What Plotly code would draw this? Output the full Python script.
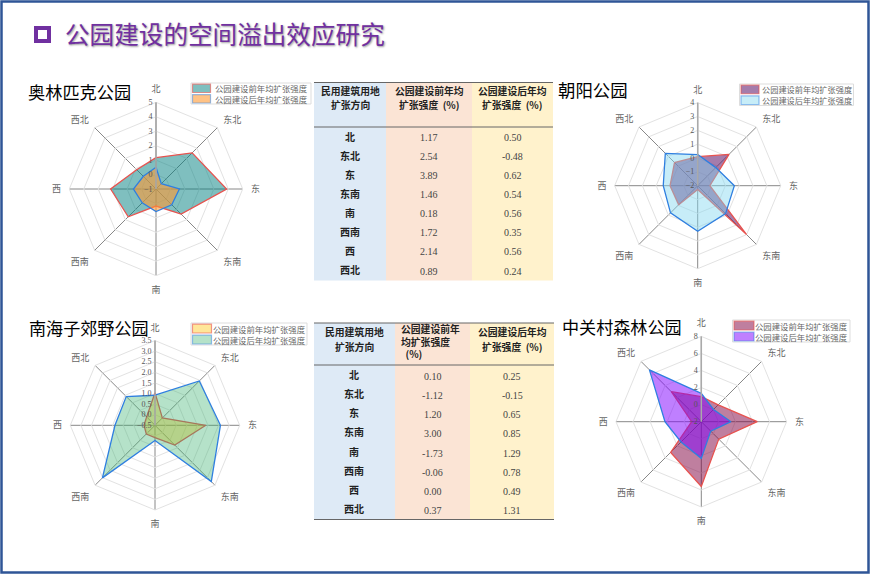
import plotly.graph_objects as go

W = 871
H = 575

directions = ['北', '东北', '东', '东南', '南', '西南', '西', '西北']
before_name = '公园建设前年均扩张强度'
after_name = '公园建设后年均扩张强度'

# 雷达图数据
aolin_before = [1.17, 2.54, 3.89, 1.46, 0.18, 1.72, 2.14, 0.89]
aolin_after = [0.50, -0.48, 0.62, 0.54, 0.56, 0.35, 0.56, 0.24]
chaoyang_before = [0.10, 1.20, -1.12, 3.00, -1.73, -0.06, 0.00, 0.37]
chaoyang_after = [0.25, -0.15, 0.65, 0.85, 1.29, 0.78, 0.49, 1.31]
nanhai_before = [1.04, -0.01, 1.90, 0.82, 0.08, 0.08, 0.02, 0.06]
nanhai_after = [0.92, 2.46, 2.59, 3.26, 0.22, 3.01, 1.39, 1.42]
zhongguan_before = [0.93, 0.80, 4.56, 0.89, 5.60, 3.08, -0.87, 2.97]
zhongguan_after = [1.32, 0.03, 1.48, -0.44, 2.30, 1.36, 2.26, 6.60]

# 表格数据
nbsp = '\u00a0'
table1_header = [['民用建筑用地', '扩张方向'],
                 ['公园建设前年均', '扩张强度' + nbsp * 2 + '(%)'],
                 ['公园建设后年均', '扩张强度' + nbsp * 2 + '(%)']]
table1_before = ['1.17', '2.54', '3.89', '1.46', '0.18', '1.72', '2.14', '0.89']
table1_after = ['0.50', '-0.48', '0.62', '0.54', '0.56', '0.35', '0.56', '0.24']
table2_header = [['民用建筑用地', '扩张方向'],
                 ['公园建设前年<br>均扩张强度<br>' + nbsp * 2 + '(%)'],
                 ['公园建设后年均', '扩张强度' + nbsp * 2 + '(%)']]
table2_before = ['0.10', '-1.12', '1.20', '3.00', '-1.73', '-0.06', '0.00', '0.37']
table2_after = ['0.25', '-0.15', '0.65', '0.85', '1.29', '0.78', '0.49', '1.31']

LABEL_FONT = 'Liberation Serif, Noto Sans CJK SC'
CJK_FONT = 'Noto Sans CJK SC'
RED = '#e8534f'
BLUE = '#2f7fe0'

# 子图名, 前, 后, 圆心x, 圆心y, 半径, 径向范围, 刻度, 刻度格式, 前填充, 后填充, 图例框(x0,y0,x1,y1), 色块宽度, 文字x, 文字大小
charts = [
    ('polar', aolin_before, aolin_after, 156, 189, 86.7, [-1, 5], [-1, 0, 1, 2, 3, 4, 5], 'd',
     'rgba(0,128,128,0.5)', 'rgba(255,153,51,0.6)', (191, 83, 311, 104), 18, 213, 8.4),
    ('polar2', chaoyang_before, chaoyang_after, 697.7, 185.7, 83, [-2, 4], [-2, -1, 0, 1, 2, 3, 4], 'd',
     'rgba(100,30,110,0.58)', 'rgba(130,215,240,0.45)', (739.5, 84, 853.5, 105.5), 18, 759.5, 8.2),
    ('polar3', nanhai_before, nanhai_after, 155, 425.3, 84.7, [-0.5, 3.5],
     [-0.5, 0, 0.5, 1, 1.5, 2, 2.5, 3, 3.5], '.1f',
     'rgba(255,192,0,0.4)', 'rgba(60,179,113,0.38)', (191, 323, 307, 345), 19, 211, 8.4),
    ('polar4', zhongguan_before, zhongguan_after, 701.3, 421.7, 85.3, [-2, 8], [-2, 0, 2, 4, 6, 8], 'd',
     'rgba(128,0,64,0.5)', 'rgba(128,0,255,0.5)', (732.5, 320, 850, 342), 20, 753, 8.4),
]


def rect(x0, y0, x1, y1, **kw):
    return dict(type='rect', xref='paper', yref='paper', x0=x0 / W, x1=x1 / W, y0=1 - y0 / H, y1=1 - y1 / H, **kw)


def rule(x0, x1, y, color='#666666', width=1):
    return dict(type='line', xref='paper', yref='paper', x0=x0 / W, x1=x1 / W, y0=1 - y / H, y1=1 - y / H,
                line=dict(color=color, width=width))


def text(x, y, s, size, color='#000000', anchor='left', family=CJK_FONT, shadow=None, align='center'):
    return dict(text=s, xref='paper', yref='paper', x=x / W, y=1 - y / H, xanchor=anchor, yanchor='middle',
                align=align, showarrow=False, font=dict(family=family, size=size, color=color, shadow=shadow))


fig = go.Figure()
layout_extra = {}
shapes = [
    rect(1.5, 1.5, 868.5, 572.5, line=dict(color='#2f5597', width=2.5)),
    rect(36, 28, 49, 41, line=dict(color='#7030a0', width=4)),
]
annotations = [
    text(62.5, 33, '公园建设的空间溢出效应研究', 24.6, '#7030a0', shadow='1px 1px 2px #999999'),
    text(25.5, 91, '奥林匹克公园', 17.2),
    text(555.5, 90, '朝阳公园', 17.4),
    text(26.5, 327, '南海子郊野公园', 17.1),
    text(559.5, 326, '中关村森林公园', 17.1),
]

for polar_id, before, after, cx, cy, radius, r_range, r_ticks, r_fmt, c1, c2, box, sw, tx, leg_size in charts:
    # 首尾相接让折线闭合
    fig.add_trace(go.Scatterpolar(r=before + before[:1], theta=directions + directions[:1], name=before_name,
                                  subplot=polar_id, mode='lines', fill='toself', showlegend=False,
                                  fillcolor=c1, line=dict(color=RED, width=1.3)))
    fig.add_trace(go.Scatterpolar(r=after + after[:1], theta=directions + directions[:1], name=after_name,
                                  subplot=polar_id, mode='lines', fill='toself', showlegend=False,
                                  fillcolor=c2, line=dict(color=BLUE, width=1.3)))
    layout_extra[polar_id] = dict(
        domain=dict(x=[(cx - radius) / W, (cx + radius) / W], y=[1 - (cy + radius) / H, 1 - (cy - radius) / H]),
        gridshape='linear',
        bgcolor='rgba(0,0,0,0)',
        radialaxis=dict(range=r_range, tickvals=r_ticks, tickformat=r_fmt, angle=90, tickangle=90,
                        side='counterclockwise',
                        gridcolor='#e2e2e2', gridwidth=1, linecolor='#aaaaaa', linewidth=1.5, ticks='',
                        tickfont=dict(family=LABEL_FONT, size=8, color='#555555')),
        angularaxis=dict(direction='clockwise', rotation=90, gridcolor='#888888', gridwidth=1,
                         linecolor='#e2e2e2', linewidth=1, ticks='outside', ticklen=6,
                         tickcolor='rgba(0,0,0,0)',
                         tickfont=dict(family=LABEL_FONT, size=9, color='#666666')),
    )
    # 自带图例行高压不下来，这里手画
    x0, y0, x1, y1 = box
    row_h = (y1 - y0) / 2
    shapes.append(rect(x0, y0, x1, y1, fillcolor='#ffffff', line=dict(color='#dddddd', width=1)))
    for i, (name, fill_c, line_c) in enumerate([(before_name, c1, 'rgba(232,83,79,0.6)'),
                                                (after_name, c2, 'rgba(47,127,224,0.5)')]):
        shapes.append(rect(x0 + 1.5, y0 + i * row_h + 1.2, x0 + 1.5 + sw, y0 + (i + 1) * row_h - 1,
                           fillcolor=fill_c, line=dict(color=line_c, width=1.2)))
        annotations.append(text(tx, y0 + (i + 0.5) * row_h, name, leg_size, '#666666'))

# 两张表
col_fill = ['#deeaf6', '#fbe4d5', '#fff2cc']
tables = [
    dict(edges=[314, 386, 472, 553], top=82.5, rule_y=127, bottom=280.5, header=table1_header,
         header_x=[[350, 350], [429, 429], [512, 512]], header_y=[[90.7, 105.3], [90.7, 105.3], [90.7, 105.3]],
         before=table1_before, after=table1_after, label_y=136, num_y=137.3, step=19.1, last_rule=False),
    dict(edges=[314, 395, 470, 554], top=323, rule_y=365, bottom=519.5, header=table2_header,
         header_x=[[354, 354], [430], [512, 512]],
         header_y=[[331.7, 346.7], [341.3], [331.7, 346.7]],
         before=table2_before, after=table2_after, label_y=374.3, num_y=376.3, step=19.2, last_rule=True),
]

for t in tables:
    e = t['edges']
    for i in range(3):
        shapes.append(rect(e[i], t['top'], e[i + 1], t['bottom'], fillcolor=col_fill[i], line=dict(width=0), layer='below'))
    shapes.append(rule(e[0], e[3], t['top']))
    shapes.append(rule(e[0], e[3], t['rule_y']))
    if t['last_rule']:
        shapes.append(rule(e[0], e[3], t['bottom']))
    for c in range(3):
        for line_text, hx, hy in zip(t['header'][c], t['header_x'][c], t['header_y'][c]):
            annotations.append(text(hx, hy, '<b>%s</b>' % line_text, 9.8, '#222222', anchor='center', align='left'))
    num_x = [(e[1] + e[2]) / 2, (e[2] + e[3]) / 2]
    for row, d in enumerate(directions):
        annotations.append(text(t['header_x'][0][0], t['label_y'] + row * t['step'], '<b>%s</b>' % d, 10, '#222222',
                                anchor='center'))
        annotations.append(text(num_x[0], t['num_y'] + row * t['step'], t['before'][row], 10, '#444444',
                                anchor='center', family=LABEL_FONT))
        annotations.append(text(num_x[1], t['num_y'] + row * t['step'], t['after'][row], 10, '#444444',
                                anchor='center', family=LABEL_FONT))

fig.update_layout(width=W, height=H, margin=dict(l=0, r=0, t=0, b=0), paper_bgcolor='#ffffff',
                  shapes=shapes, annotations=annotations, showlegend=False, **layout_extra)
fig.write_html('out.html', config={'displayModeBar': False}, post_script="document.body.style.margin='0';")
